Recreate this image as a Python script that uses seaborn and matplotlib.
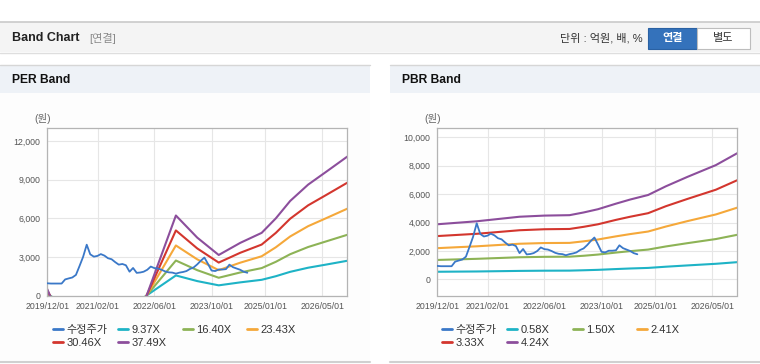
import numpy as np
import pandas as pd
import matplotlib
matplotlib.use("Agg")
import matplotlib.pyplot as plt
import matplotlib.ticker as mticker
from matplotlib.patches import Rectangle
from matplotlib.lines import Line2D
import seaborn as sns

W, H = 760, 364

# 수정주가 (monthly)
price_dates = pd.date_range("2019-12-01", periods=57, freq="MS")
price = [950, 930, 930, 930, 930, 1250, 1330, 1400, 1600, 2300,
         3000, 3950, 3200, 3020, 3080, 3220, 3100, 2900, 2820, 2600,
         2400, 2450, 2350, 1850, 2140, 1760, 1790, 1850, 2000, 2250,
         2130, 2100, 2000, 1870, 1800, 1780, 1700, 1780, 1830, 1900,
         2070, 2180, 2420, 2700, 2950, 2450, 1940, 1900, 2020, 2020,
         2050, 2400, 2200, 2100, 2000, 1850, 1770]

# PER band
per_dates = pd.to_datetime(["2019-12-01", "2020-03-01", "2021-12-01", "2022-12-01", "2023-06-01",
                            "2023-12-01", "2024-06-01", "2024-12-01", "2025-04-01", "2025-08-01",
                            "2026-01-01", "2026-06-01", "2026-12-01"])
per_labels = ["9.37X", "16.40X", "23.43X", "30.46X", "37.49X"]
per_937 = [120, -380, -720, 1560, 1120, 790, 1020, 1220, 1500, 1840, 2160, 2400, 2700]
per_1640 = [210, -660, -1260, 2720, 1970, 1380, 1790, 2130, 2620, 3210, 3770, 4200, 4720]
per_2343 = [300, -940, -1800, 3890, 2810, 1970, 2550, 3050, 3750, 4590, 5390, 6000, 6750]
per_3046 = [400, -1220, -2350, 5060, 3660, 2560, 3320, 3960, 4870, 5970, 7010, 7800, 8770]
per_3749 = [490, -1500, -2890, 6220, 4500, 3150, 4090, 4870, 6000, 7350, 8620, 9600, 10800]

# PBR band
pbr_dates = pd.to_datetime(["2019-12-01", "2020-11-01", "2021-11-01", "2022-06-01", "2023-01-01",
                            "2023-05-01", "2023-09-01", "2024-02-01", "2024-06-01", "2024-11-01",
                            "2025-04-01", "2025-10-01", "2026-06-01", "2026-12-01"])
pbr_labels = ["0.58X", "1.50X", "2.41X", "3.33X", "4.24X"]
pbr_058 = [540, 560, 600, 615, 620, 645, 675, 730, 770, 810, 895, 985, 1100, 1215]
pbr_150 = [1370, 1450, 1560, 1590, 1600, 1665, 1750, 1890, 1990, 2100, 2320, 2550, 2840, 3140]
pbr_241 = [2200, 2330, 2510, 2560, 2570, 2680, 2810, 3030, 3190, 3370, 3720, 4100, 4570, 5050]
pbr_333 = [3050, 3210, 3460, 3530, 3550, 3700, 3880, 4190, 4410, 4660, 5150, 5660, 6310, 6980]
pbr_424 = [3880, 4090, 4410, 4490, 4520, 4710, 4940, 5330, 5620, 5940, 6550, 7210, 8040, 8880]

xtick_dates = pd.to_datetime(["2019-12-01", "2021-02-01", "2022-06-01", "2023-10-01", "2025-01-01", "2026-05-01"])
xtick_labels = ["2019/12/01", "2021/02/01", "2022/06/01", "2023/10/01", "2025/01/01", "2026/05/01"]

price_color = "#3a78c8"
band_colors = ["#1eb3c6", "#8db356", "#f5a83a", "#d3362e", "#8c4e9c"]

sns.set_style("white")
plt.rcParams["font.family"] = ["Liberation Sans", "Noto Sans CJK KR", "DejaVu Sans"]


def fx(x):
    return x / W


def fy(y):
    return 1 - y / H


fig = plt.figure(figsize=(W / 100, H / 100), dpi=100)
fig.patch.set_facecolor("white")

# page chrome
fig.add_artist(Rectangle((0, fy(52)), 1, 30 / H, transform=fig.transFigure, fc="#f4f4f4", ec="none", zorder=-2))
fig.add_artist(Line2D([0, 1], [fy(22), fy(22)], transform=fig.transFigure, color="#c9c9c9", lw=1.2))
fig.add_artist(Line2D([0, 1], [fy(52.5), fy(52.5)], transform=fig.transFigure, color="#dedede", lw=1.0))
fig.text(fx(12), fy(38), "Band Chart", fontsize=9, weight="bold", color="#222222", va="center")
fig.text(fx(89), fy(38), "[연결]", fontsize=8, color="#8a8a8a", va="center")
fig.text(fx(643), fy(38), "단위 : 억원, 배, %", fontsize=8, color="#333333", va="center", ha="right")
fig.add_artist(Rectangle((fx(648), fy(48.5)), 49 / W, 20 / H, transform=fig.transFigure,
                         fc="#3472bb", ec="#2a61a3", lw=0.8))
fig.add_artist(Rectangle((fx(697), fy(48.5)), 53 / W, 20 / H, transform=fig.transFigure,
                         fc="white", ec="#bdbdbd", lw=0.8))
fig.text(fx(672.5), fy(38.5), "연결", fontsize=8, weight="bold", color="white", ha="center", va="center")
fig.text(fx(723.5), fy(38.5), "별도", fontsize=8, color="#333333", ha="center", va="center")

for px0, px1, title in [(0, 370, "PER Band"), (390, 760, "PBR Band")]:
    fig.add_artist(Rectangle((fx(px0), fy(361)), (px1 - px0) / W, (361 - 92) / H, transform=fig.transFigure,
                             fc="#fdfdfd", ec="none", zorder=-2))
    fig.add_artist(Rectangle((fx(px0), fy(92.5)), (px1 - px0) / W, 28 / H, transform=fig.transFigure,
                             fc="#eef2f7", ec="none", zorder=-2))
    fig.add_artist(Line2D([fx(px0), fx(px1)], [fy(64.5), fy(64.5)], transform=fig.transFigure, color="#d6d6d6", lw=1.0))
    fig.add_artist(Line2D([fx(px0), fx(px1)], [fy(362), fy(362)], transform=fig.transFigure, color="#d0d0d0", lw=1.5))
    fig.text(fx(px0 + 12), fy(80), title, fontsize=8.7, weight="bold", color="#111111", va="center")


def draw_band(left, bands, band_dates, labels, ylim, yticks, legend_x):
    ax = fig.add_axes([fx(left), fy(295.5), 300 / W, 167.2 / H])
    for vals, col in zip(bands, band_colors):
        sns.lineplot(x=band_dates, y=vals, ax=ax, color=col, lw=1.5, legend=False)
    sns.lineplot(x=price_dates, y=price, ax=ax, color=price_color, lw=1.3, legend=False, zorder=3)
    ax.set_xlim(pd.Timestamp("2019-12-01"), pd.Timestamp("2026-12-01"))
    ax.set_ylim(*ylim)
    ax.set_xticks(xtick_dates)
    ax.set_xticklabels(xtick_labels)
    ax.set_yticks(yticks)
    ax.yaxis.set_major_formatter(mticker.StrMethodFormatter("{x:,.0f}"))
    ax.set_xlabel("")
    ax.set_ylabel("")
    ax.grid(True, color="#e6e6e6", lw=0.8)
    ax.set_axisbelow(True)
    for s in ax.spines.values():
        s.set_color("#b4b4b4")
        s.set_linewidth(0.9)
    ax.tick_params(axis="x", length=3, color="#b4b4b4", labelsize=6.3, labelcolor="#555555", pad=2)
    ax.tick_params(axis="y", length=0, labelsize=6.3, labelcolor="#555555", pad=5)
    fig.text(fx(left - 5), fy(118.5), "(원)", fontsize=7.5, color="#666666", ha="center", va="center")

    handles = [Line2D([], [], color=price_color, lw=2)] + [Line2D([], [], color=c, lw=2) for c in band_colors]
    names = ["수정주가"] + labels
    row_y = [330, 343.3]
    for i, (h, n) in enumerate(zip(handles, names)):
        leg = ax.legend(handles=[h], labels=[n], loc="center left",
                        bbox_to_anchor=(fx(legend_x[i % 4]), fy(row_y[i // 4])),
                        bbox_transform=fig.transFigure, frameon=False, borderpad=0, borderaxespad=0,
                        handlelength=0.9, handletextpad=0.3, fontsize=8, labelcolor="#333333")
        ax.add_artist(leg)
    ax.legend_ = None
    return ax


draw_band(47.3, [per_937, per_1640, per_2343, per_3046, per_3749], per_dates, per_labels,
          (0, 13000), [0, 3000, 6000, 9000, 12000], [53.3, 118.3, 183, 247.3])
draw_band(437.3, [pbr_058, pbr_150, pbr_241, pbr_333, pbr_424], pbr_dates, pbr_labels,
          (-1130, 10630), [0, 2000, 4000, 6000, 8000, 10000], [442.3, 507.3, 572.7, 637.3])

fig.savefig("out.png", dpi=100)
